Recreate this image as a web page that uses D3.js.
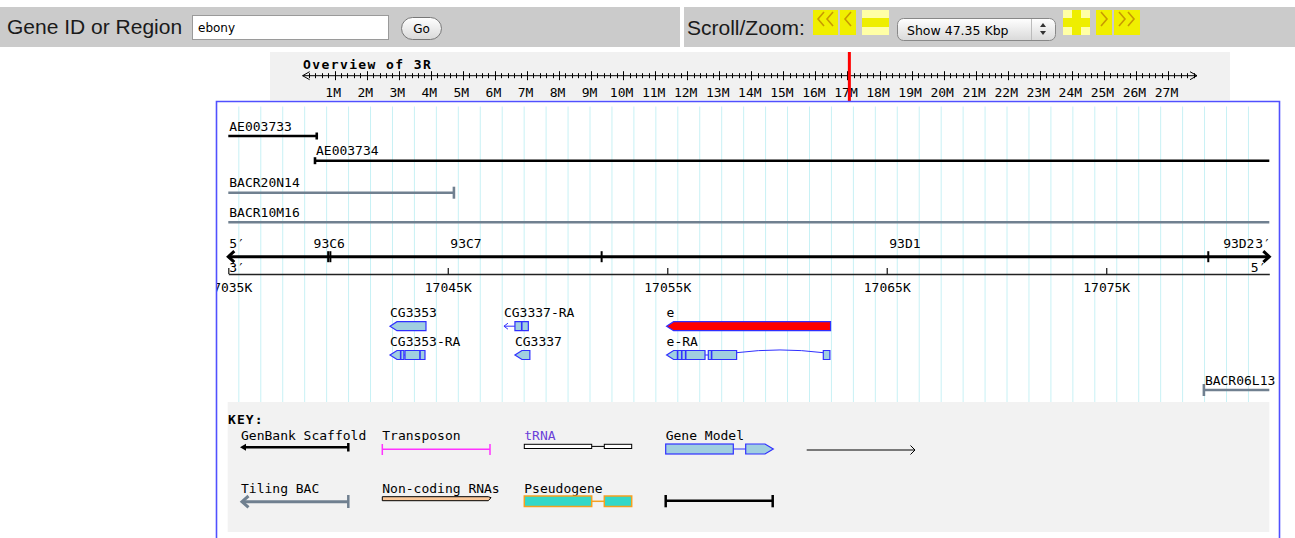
<!DOCTYPE html>
<html>
<head>
<meta charset="utf-8">
<script src="https://cdnjs.cloudflare.com/ajax/libs/d3/7.8.5/d3.min.js"></script>
<style>
html, body { margin: 0; padding: 0; background: #fff; }
svg { display: block; }
</style>
</head>
<body>
<svg id="chart" width="1295" height="538"></svg>
<script>
// ---- data (genomic coordinates, bp) ----
const searchTerm = "ebony";
const viewLabel = "Show 47.35 Kbp";
const chromName = "3R";
const chromLength = 27905000;
const overviewLabels = d3.range(1, 28);               // 1M .. 27M
const viewStart = 17035000, viewEnd = 17082430;
const kbTicks = d3.range(17035000, viewEnd, 10000);
const gridLines = d3.range(17035480, viewEnd, 1000);

const scaffolds = [
    {name: "AE003733", start: 17030000, end: 17039030},
    {name: "AE003734", start: 17038950, end: 17100000}
];
const bacs = [
    {name: "BACR20N14", start: 17020000, end: 17045280},
    {name: "BACR10M16", start: 17010000, end: 17120000}
];
const lowerBacs = [
    {name: "BACR06L13", start: 17079450, end: 17160000}
];
const bands = [
    {name: "93C6", start: 17039550, end: 17039650},
    {name: "93C7", start: 17039650, end: 17052010},
    {name: "93D1", start: 17052010, end: 17079650},
    {name: "93D2", start: 17079650, end: 17120000}
];
// row 0 = genes, row 1 = transcripts
const transcripts = [
    {name: "CG3353", row: 0, strand: -1, exons: [[17042367, 17044007]], marks: []},
    {name: "CG3337-RA", row: 0, strand: -1, start: 17047560, exons: [[17048060, 17048670]], marks: [17048370]},
    {name: "e", row: 0, strand: -1, exons: [[17054970, 17062440]], marks: [], fill: "#ff0000"},
    {name: "CG3353-RA", row: 1, strand: -1, exons: [[17042367, 17043000], [17043050, 17043961]], marks: [17042854, 17043733]},
    {name: "CG3337", row: 1, strand: -1, exons: [[17048060, 17048740]], marks: []},
    {name: "e-RA", row: 1, strand: -1, exons: [[17054970, 17056720], [17056870, 17058160], [17062110, 17062410]],
        marks: [17055470, 17055660, 17055840, 17057020]}
];
const keyRow1 = ["GenBank Scaffold", "Transposon", "tRNA", "Gene Model"];
const keyRow2 = ["Tiling BAC", "Non-coding RNAs", "Pseudogene"];

// ---- setup ----
const svg = d3.select("#chart");
const mono = "'DejaVu Sans Mono', monospace";
const sans = "'Liberation Sans', Arial, sans-serif";
const exonFill = "#a0cfe0", exonStroke = "#3030ff";
const slate = "#708090";
const gridColor = "#c8f1f5";
const charW = 7.83; // width of one mono glyph at 13px

const defs = svg.append("defs");
const grad = defs.append("linearGradient").attr("id", "btn")
    .attr("x1", 0).attr("y1", 0).attr("x2", 0).attr("y2", 1);
grad.append("stop").attr("offset", "0%").attr("stop-color", "#ffffff");
grad.append("stop").attr("offset", "100%").attr("stop-color", "#d9d9d9");
defs.append("clipPath").attr("id", "panelClip").append("rect")
    .attr("x", 217).attr("y", 102).attr("width", 1062).attr("height", 436);

// ---- top bar ----
let bar = svg.append("g");
bar.append("rect").attr("x", 0).attr("y", 7).attr("width", 680).attr("height", 40).attr("fill", "#cbcbcb");
bar.append("rect").attr("x", 684).attr("y", 7).attr("width", 611).attr("height", 40).attr("fill", "#cbcbcb");
bar.append("text").attr("x", 7).attr("y", 34).attr("font-family", sans).attr("font-size", 21)
    .attr("fill", "#1a1a1a").text("Gene ID or Region");
bar.append("rect").attr("x", 192.5).attr("y", 15.5).attr("width", 196).attr("height", 24)
    .attr("fill", "#fff").attr("stroke", "#9a9a9a");
bar.append("text").attr("x", 198).attr("y", 32).attr("font-family", "'DejaVu Sans', sans-serif")
    .attr("font-size", 12).text(searchTerm);
bar.append("rect").attr("x", 401.5).attr("y", 17.5).attr("width", 40).attr("height", 22).attr("rx", 11)
    .attr("fill", "url(#btn)").attr("stroke", "#777");
bar.append("text").attr("x", 421.5).attr("y", 33).attr("text-anchor", "middle")
    .attr("font-family", "'DejaVu Sans', sans-serif").attr("font-size", 12).text("Go");

bar.append("text").attr("x", 687).attr("y", 35).attr("font-family", sans).attr("font-size", 21)
    .attr("fill", "#1a1a1a").text("Scroll/Zoom:");

function chevron(g, cx, dir) {
    // dir -1 = "<", +1 = ">"
    g.append("polyline")
        .attr("points", [[cx - 3 * dir, 12], [cx + 3 * dir, 19], [cx - 3 * dir, 26]].join(" "))
        .attr("fill", "none").attr("stroke", "#c89a00").attr("stroke-width", 1.6);
}
let b = bar.append("g");
b.append("rect").attr("x", 813).attr("y", 10).attr("width", 25).attr("height", 25).attr("fill", "#f0ef00");
chevron(b, 821, -1); chevron(b, 830, -1);
b.append("rect").attr("x", 840).attr("y", 10).attr("width", 16).attr("height", 25).attr("fill", "#f0ef00");
chevron(b, 848, -1);
b.append("rect").attr("x", 862).attr("y", 10).attr("width", 27).attr("height", 25).attr("fill", "#ffffa6");
b.append("rect").attr("x", 862).attr("y", 18).attr("width", 27).attr("height", 9).attr("fill", "#eeee00");
b.append("rect").attr("x", 1063).attr("y", 10).attr("width", 27).attr("height", 25).attr("fill", "#ffffa6");
b.append("rect").attr("x", 1063).attr("y", 18).attr("width", 27).attr("height", 9).attr("fill", "#eeee00");
b.append("rect").attr("x", 1072).attr("y", 10).attr("width", 9).attr("height", 25).attr("fill", "#eeee00");
b.append("rect").attr("x", 1096).attr("y", 10).attr("width", 16).attr("height", 25).attr("fill", "#f0ef00");
chevron(b, 1104, 1);
b.append("rect").attr("x", 1114).attr("y", 10).attr("width", 26).attr("height", 25).attr("fill", "#f0ef00");
chevron(b, 1122, 1); chevron(b, 1131, 1);

bar.append("rect").attr("x", 897.5).attr("y", 18.5).attr("width", 158).attr("height", 22).attr("rx", 6)
    .attr("fill", "url(#btn)").attr("stroke", "#888");
bar.append("text").attr("x", 907).attr("y", 34.5).attr("font-family", "'DejaVu Sans', sans-serif")
    .attr("font-size", 12.5).text(viewLabel);
bar.append("line").attr("x1", 1031.5).attr("x2", 1031.5).attr("y1", 19).attr("y2", 40).attr("stroke", "#bbb");
bar.append("path").attr("d", "M1040,27 L1043,23 L1046,27 Z M1040,31 L1043,35 L1046,31 Z").attr("fill", "#333");

// ---- overview of chromosome ----
let ov = svg.append("g");
let ox = d3.scaleLinear().domain([0, chromLength]).range([302.6, 1197]);
ov.append("rect").attr("x", 270).attr("y", 52).attr("width", 960).attr("height", 48).attr("fill", "#f1f1f1");
ov.append("text").attr("x", 303).attr("y", 69).attr("font-family", mono).attr("font-size", 13)
    .attr("font-weight", "bold").attr("letter-spacing", 1.4).text("Overview of " + chromName);
const axisY = 75.7;
ov.append("line").attr("x1", ox(0)).attr("x2", ox(chromLength)).attr("y1", axisY).attr("y2", axisY)
    .attr("stroke", "#000");
ov.append("polyline").attr("points", [[ox(0) + 7, axisY - 4], [ox(0), axisY], [ox(0) + 7, axisY + 4]].join(" "))
    .attr("fill", "none").attr("stroke", "#000");
ov.append("polyline").attr("points", [[ox(chromLength) - 7, axisY - 4], [ox(chromLength), axisY], [ox(chromLength) - 7, axisY + 4]].join(" "))
    .attr("fill", "none").attr("stroke", "#000");
ov.selectAll(".minor")
    .data(d3.range(200000, chromLength - 100000, 200000).filter(d => d % 1000000 !== 0))
    .enter().append("line")
    .attr("x1", d => Math.round(ox(d)) + 0.5).attr("x2", d => Math.round(ox(d)) + 0.5)
    .attr("y1", axisY - 2.5).attr("y2", axisY + 2.5).attr("stroke", "#000");
ov.selectAll(".major")
    .data(overviewLabels)
    .enter().append("line")
    .attr("x1", d => Math.round(ox(d * 1e6)) + 0.5).attr("x2", d => Math.round(ox(d * 1e6)) + 0.5)
    .attr("y1", axisY - 4.5).attr("y2", axisY + 4.5).attr("stroke", "#000");
ov.selectAll(".mlabel")
    .data(overviewLabels)
    .enter().append("text")
    .attr("x", d => ox(d * 1e6) - 1.5).attr("y", 96.5).attr("text-anchor", "middle")
    .attr("font-family", mono).attr("font-size", 13).text(d => d + "M");
ov.append("rect").attr("x", ox((viewStart + viewEnd) / 2) - 1.5).attr("y", 52).attr("width", 3).attr("height", 50)
    .attr("fill", "#ff0000");

// ---- detail panel ----
let x = d3.scaleLinear().domain([viewStart, viewEnd]).range([228.3, 1269.3]);
const xMin = x(viewStart), xMax = x(viewEnd);
let panel = svg.append("g").attr("clip-path", "url(#panelClip)");

panel.selectAll(".grid").data(gridLines).enter().append("line")
    .attr("x1", d => x(d)).attr("x2", d => x(d)).attr("y1", 106.5).attr("y2", 402)
    .attr("stroke", gridColor).attr("stroke-width", 1);

function clampX(v) { return Math.max(xMin, Math.min(xMax, x(v))); }

function drawSpanTrack(d, lineY, color, width, tickH) {
    let g = panel.append("g");
    let x1 = clampX(d.start), x2 = clampX(d.end);
    g.append("line").attr("x1", x1).attr("x2", x2).attr("y1", lineY).attr("y2", lineY)
        .attr("stroke", color).attr("stroke-width", width);
    [d.start, d.end].forEach(p => {
        if (p > viewStart && p < viewEnd) {
            g.append("line").attr("x1", x(p)).attr("x2", x(p))
                .attr("y1", lineY - tickH / 2).attr("y2", lineY + tickH / 2)
                .attr("stroke", color).attr("stroke-width", width);
        }
    });
    g.append("text").attr("x", x1 + 1).attr("y", lineY - 5.5)
        .attr("font-family", mono).attr("font-size", 13).text(d.name);
}
scaffolds.forEach((d, i) => drawSpanTrack(d, [136, 160.7][i], "#000", 2.6, 7));
bacs.forEach((d, i) => drawSpanTrack(d, [192.7, 222.3][i], slate, 2.6, 12));
lowerBacs.forEach(d => drawSpanTrack(d, 390, slate, 2.6, 12));

// cytoband ruler
const bandY = 256.7;
panel.append("line").attr("x1", xMin).attr("x2", xMax).attr("y1", bandY).attr("y2", bandY)
    .attr("stroke", "#000").attr("stroke-width", 3);
panel.append("polyline").attr("points", [[xMin + 6, bandY - 5.5], [xMin, bandY], [xMin + 6, bandY + 5.5]].join(" "))
    .attr("fill", "none").attr("stroke", "#000").attr("stroke-width", 3);
panel.append("polyline").attr("points", [[xMax - 6, bandY - 5.5], [xMax, bandY], [xMax - 6, bandY + 5.5]].join(" "))
    .attr("fill", "none").attr("stroke", "#000").attr("stroke-width", 3);
panel.selectAll(".bandtick").data(bands.filter(d => d.start > viewStart)).enter().append("line")
    .attr("x1", d => x(d.start)).attr("x2", d => x(d.start))
    .attr("y1", bandY - 5.5).attr("y2", bandY + 5.5).attr("stroke", "#000").attr("stroke-width", 2);
// strand end labels; the band labels must stay clear of the right "3′"
const primeW = 2 * charW;
const rightPrimeX = xMax + 1.5;
panel.selectAll(".bandlabel").data(bands).enter().append("text")
    .attr("x", d => {
        let c = (clampX(d.start) + clampX(d.end)) / 2;
        let half = d.name.length * charW / 2;
        return Math.min(c, rightPrimeX - primeW - half - 0.5);
    })
    .attr("y", 248)
    .attr("text-anchor", "middle").attr("font-family", mono).attr("font-size", 13).text(d => d.name);
let strandText = [
    {t: "5′", x: xMin + 1, y: 248, a: "start"},
    {t: "3′", x: xMin + 1, y: 272, a: "start"},
    {t: "3′", x: rightPrimeX, y: 248, a: "end"},
    {t: "5′", x: xMax - 3, y: 272, a: "end"}
];
panel.selectAll(".strand").data(strandText).enter().append("text")
    .attr("x", d => d.x).attr("y", d => d.y).attr("text-anchor", d => d.a)
    .attr("font-family", mono).attr("font-size", 13).text(d => d.t);

// kb ruler
let kbAxis = d3.axisBottom(x).tickValues(kbTicks).tickSizeInner(-6).tickSizeOuter(0).tickPadding(9)
    .tickFormat(d => (d / 1000) + "K");
let kbG = panel.append("g").attr("transform", "translate(0,274)").call(kbAxis);
kbG.select(".domain").attr("stroke", "#222").attr("stroke-width", 1.3);
kbG.selectAll(".tick line").attr("stroke", "#222").attr("stroke-width", 1.3);
kbG.selectAll(".tick text").attr("font-family", mono).attr("font-size", 13).attr("fill", "#000");

// transcripts
const rowY = [326.2, 355];
const exH = 9, tipLen = 7;
transcripts.forEach(t => {
    let g = panel.append("g");
    let yc = rowY[t.row];
    let first = t.exons[0][0];
    let x0 = x(t.start != null ? t.start : first);
    g.append("text").attr("x", x0).attr("y", yc - exH / 2 - 4.5)
        .attr("font-family", mono).attr("font-size", 13).text(t.name);
    if (t.start != null) {
        g.append("line").attr("x1", x0).attr("x2", x(first)).attr("y1", yc).attr("y2", yc)
            .attr("stroke", exonStroke).attr("stroke-width", 1);
        g.append("polyline").attr("points", [[x0 + 4, yc - 3], [x0, yc], [x0 + 4, yc + 3]].join(" "))
            .attr("fill", "none").attr("stroke", exonStroke).attr("stroke-width", 1);
    }
    for (let i = 1; i < t.exons.length; i++) {
        let a = x(t.exons[i - 1][1]), c = x(t.exons[i][0]);
        if (c - a > 12) {
            g.append("path").attr("d", `M${a},${yc - 2.3} Q${(a + c) / 2},${yc - 7.8} ${c},${yc - 2.3}`)
                .attr("fill", "none").attr("stroke", exonStroke).attr("stroke-width", 1);
        } else {
            g.append("line").attr("x1", a).attr("x2", c).attr("y1", yc).attr("y2", yc)
                .attr("stroke", exonStroke);
        }
    }
    t.exons.forEach((e, i) => {
        let a = x(e[0]), c = x(e[1]);
        let y0 = yc - exH / 2, y1 = yc + exH / 2;
        let pts;
        if (i === 0 && t.start == null && t.strand < 0) {
            let tl = Math.min(tipLen, c - a);
            pts = [[a, yc], [a + tl, y0], [c, y0], [c, y1], [a + tl, y1]];
        } else {
            pts = [[a, y0], [c, y0], [c, y1], [a, y1]];
        }
        g.append("polygon").attr("points", pts.join(" "))
            .attr("fill", t.fill || exonFill).attr("stroke", exonStroke).attr("stroke-width", 1.2);
    });
    t.marks.forEach(m => {
        g.append("line").attr("x1", x(m)).attr("x2", x(m)).attr("y1", yc - exH / 2).attr("y2", yc + exH / 2)
            .attr("stroke", exonStroke).attr("stroke-width", 1.6);
    });
});

// ---- key ----
let key = panel.append("g");
key.append("rect").attr("x", 227.7).attr("y", 402).attr("width", 1041.6).attr("height", 130).attr("fill", "#f2f2f2");
key.append("text").attr("x", 228).attr("y", 424).attr("font-family", mono).attr("font-size", 13)
    .attr("font-weight", "bold").attr("letter-spacing", 1.1).text("KEY:");
const keyCols = [241, 382.3, 524.3, 665.7, 807];
keyRow1.forEach((s, i) => key.append("text").attr("x", keyCols[i]).attr("y", 440)
    .attr("font-family", mono).attr("font-size", 13).attr("fill", s === "tRNA" ? "#6a40d8" : "#000").text(s));
keyRow2.forEach((s, i) => key.append("text").attr("x", keyCols[i]).attr("y", 492.5)
    .attr("font-family", mono).attr("font-size", 13).text(s));

// GenBank scaffold glyph
key.append("line").attr("x1", 243).attr("x2", 348.3).attr("y1", 447.3).attr("y2", 447.3).attr("stroke", "#000").attr("stroke-width", 2.5);
key.append("path").attr("d", "M240,447.3 L246,443.8 L246,450.8 Z").attr("fill", "#000");
key.append("line").attr("x1", 348.3).attr("x2", 348.3).attr("y1", 443).attr("y2", 451.5).attr("stroke", "#000").attr("stroke-width", 2.5);
// transposon
key.append("line").attr("x1", 382.3).attr("x2", 490).attr("y1", 449.3).attr("y2", 449.3).attr("stroke", "#ff33ff").attr("stroke-width", 1.5);
[382.3, 490].forEach(v => key.append("line").attr("x1", v).attr("x2", v).attr("y1", 444).attr("y2", 455)
    .attr("stroke", "#ff33ff").attr("stroke-width", 1.5));
// tRNA
key.append("line").attr("x1", 591.7).attr("x2", 604.3).attr("y1", 446.4).attr("y2", 446.4).attr("stroke", "#000");
[[524.3, 591.7], [604.3, 631.7]].forEach(r => key.append("rect").attr("x", r[0]).attr("y", 444.3)
    .attr("width", r[1] - r[0]).attr("height", 4.2).attr("fill", "#fff").attr("stroke", "#000"));
// gene model
key.append("line").attr("x1", 733.3).attr("x2", 745.7).attr("y1", 449).attr("y2", 449).attr("stroke", exonStroke);
key.append("rect").attr("x", 665.7).attr("y", 444).attr("width", 67.6).attr("height", 10)
    .attr("fill", exonFill).attr("stroke", exonStroke).attr("stroke-width", 1.2);
key.append("polygon").attr("points", "745.7,444 765,444 773.3,449 765,454 745.7,454")
    .attr("fill", exonFill).attr("stroke", exonStroke).attr("stroke-width", 1.2);
// direction arrow
key.append("line").attr("x1", 806.7).attr("x2", 915).attr("y1", 450).attr("y2", 450).attr("stroke", "#000");
key.append("polyline").attr("points", "910.5,445.5 915,450 910.5,454.5").attr("fill", "none").attr("stroke", "#000");
// tiling BAC
key.append("line").attr("x1", 242).attr("x2", 348.3).attr("y1", 501.7).attr("y2", 501.7).attr("stroke", slate).attr("stroke-width", 3);
key.append("polyline").attr("points", "248.5,496 242,501.7 248.5,507.4").attr("fill", "none").attr("stroke", slate).attr("stroke-width", 3);
key.append("line").attr("x1", 348.3).attr("x2", 348.3).attr("y1", 495).attr("y2", 508).attr("stroke", slate).attr("stroke-width", 2.5);
// non-coding RNA
key.append("polygon").attr("points", "382.3,496.7 488.3,496.7 491,497.7 488.3,500.7 382.3,500.7")
    .attr("fill", "#fbc89a").attr("stroke", "#000").attr("stroke-width", 1);
// pseudogene
key.append("line").attr("x1", 591.7).attr("x2", 604.3).attr("y1", 501.3).attr("y2", 501.3).attr("stroke", "#f5a020").attr("stroke-width", 1.5);
[[524.3, 591.7], [604.3, 631.7]].forEach(r => key.append("rect").attr("x", r[0]).attr("y", 496)
    .attr("width", r[1] - r[0]).attr("height", 10.5).attr("fill", "#33d8c8").attr("stroke", "#f5a020").attr("stroke-width", 1.5));
// scale bar
key.append("line").attr("x1", 665.7).attr("x2", 772.7).attr("y1", 500.7).attr("y2", 500.7).attr("stroke", "#000").attr("stroke-width", 2.5);
[665.7, 772.7].forEach(v => key.append("line").attr("x1", v).attr("x2", v).attr("y1", 495).attr("y2", 507.3)
    .attr("stroke", "#000").attr("stroke-width", 2.5));

// panel border
svg.append("path").attr("d", "M216.5,538 V101.5 H1279.5 V538").attr("fill", "none")
    .attr("stroke", "#5050ff").attr("stroke-width", 1.6);
</script>
</body>
</html>
